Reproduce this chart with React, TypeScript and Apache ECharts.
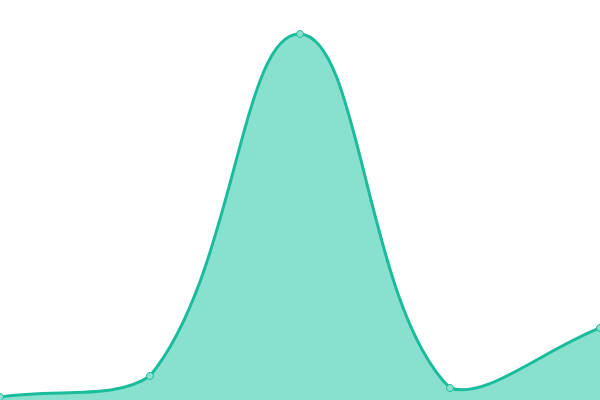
import React, { useEffect, useRef } from "react";
import * as echarts from "echarts";

const categories = ["A", "B", "C", "D", "E"];
const values = [3, 24, 366, 12, 72];

const LINE = "#1abc9c";
const AREA = "#8ae0cf";
const TENSION = 0.4;

function buildPaths(pts: number[][], left: number, right: number, top: number, bottom: number) {
  const cap = (p: number[]) => [
    Math.min(Math.max(p[0], left), right),
    Math.min(Math.max(p[1], top), bottom),
  ];
  const n = pts.length;
  const cps: { prev: number[]; next: number[] }[] = [];
  for (let i = 0; i < n; i++) {
    const p0 = pts[i - 1] || pts[i];
    const p1 = pts[i];
    const p2 = pts[i + 1] || pts[i];
    const d01 = Math.hypot(p1[0] - p0[0], p1[1] - p0[1]);
    const d12 = Math.hypot(p2[0] - p1[0], p2[1] - p1[1]);
    let s01 = d01 / (d01 + d12);
    let s12 = d12 / (d01 + d12);
    if (!isFinite(s01)) s01 = 0;
    if (!isFinite(s12)) s12 = 0;
    const fa = TENSION * s01;
    const fb = TENSION * s12;
    cps.push({
      prev: cap([p1[0] - fa * (p2[0] - p0[0]), p1[1] - fa * (p2[1] - p0[1])]),
      next: cap([p1[0] + fb * (p2[0] - p0[0]), p1[1] + fb * (p2[1] - p0[1])]),
    });
  }
  let d = `M${pts[0][0]},${pts[0][1]}`;
  for (let i = 1; i < n; i++) {
    const a = cps[i - 1].next;
    const b = cps[i].prev;
    d += ` C${a[0]},${a[1]} ${b[0]},${b[1]} ${pts[i][0]},${pts[i][1]}`;
  }
  const area = `${d} L${pts[n - 1][0]},${bottom} L${pts[0][0]},${bottom} Z`;
  return { line: d, area };
}

export default function App() {
  const ref = useRef<HTMLDivElement>(null);
  useEffect(() => {
    if (!ref.current) return;
    const chart = echarts.init(ref.current, null, { renderer: "svg" });
    chart.setOption({
      animation: false,
      grid: { left: 0, right: 0, top: 0, bottom: 0 },
      xAxis: { type: "category", data: categories, boundaryGap: false, show: false },
      yAxis: { type: "value", min: 0, max: 400, show: false },
      series: [
        {
          type: "custom",
          data: [[0, values[0]]],
          clip: false,
          z: 1,
          renderItem: (params: any, api: any) => {
            const pts = values.map((v, i) => api.coord([i, v]));
            const cs = params.coordSys;
            const { line, area } = buildPaths(pts, cs.x, cs.x + cs.width, cs.y, cs.y + cs.height);
            return {
              type: "group",
              children: [
                { type: "path", shape: { pathData: area }, style: { fill: AREA, stroke: "none" } },
                {
                  type: "path",
                  shape: { pathData: line },
                  style: { fill: "none", stroke: LINE, lineWidth: 3 },
                },
              ],
            };
          },
        },
        {
          type: "scatter",
          data: values.map((v, i) => [i, v]),
          symbol: "circle",
          symbolSize: 7,
          z: 3,
          itemStyle: { color: AREA, borderColor: LINE, borderWidth: 1, opacity: 1 },
        },
      ],
    });
    return () => chart.dispose();
  }, []);
  return (
    <div
      ref={ref}
      style={{ position: "fixed", left: 0, top: 0, width: 600, height: 400, background: "#fff" }}
    />
  );
}
